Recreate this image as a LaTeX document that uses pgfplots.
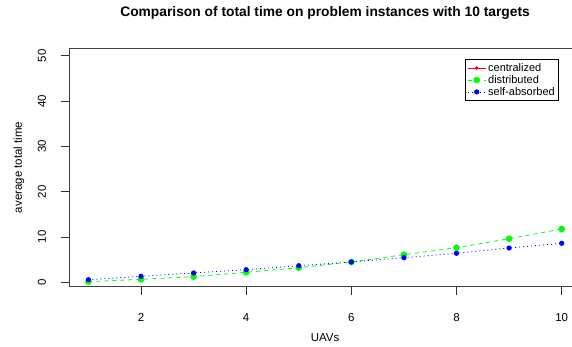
\documentclass[border=0pt]{standalone}
\usepackage{fontspec}
\setmainfont{Liberation Sans}
\usepackage{pgfplots}
\pgfplotsset{compat=1.18}
\newcommand\basefont{\fontsize{11.5bp}{13.8bp}\selectfont}
\begin{document}
\begin{tikzpicture}
\begin{axis}[
  at={(69.5bp,60.4bp)}, anchor=south west,
  scale only axis, width=511.1bp, height=238.6bp,
  xmin=0.64, xmax=10.36, ymin=-0.95, ymax=51.7,
  /pgf/number format/assume math mode=true,
  axis line style={black!75, line width=0.8bp},
  xtick={2,4,6,8,10}, ytick={0,10,20,30,40,50},
  xtick pos=bottom, ytick pos=left,
  tick align=outside, major tick length=8bp,
  tick style={black!80, line width=0.8bp},
  tick label style={font=\basefont, inner sep=0pt},
  xticklabel style={anchor=base, yshift=-26.5bp},
  yticklabel style={xshift=-15.5bp, rotate=90, anchor=base},
  title={Comparison of total time on problem instances with 10 targets},
  title style={font=\fontsize{13.8bp}{16bp}\selectfont\bfseries, at={(axis description cs:0.5,1.109)}, anchor=base, inner sep=0pt},
  xlabel={UAVs},
  xlabel style={font=\basefont, at={(axis description cs:0.5,-0.228)}, anchor=base, inner sep=0pt},
  ylabel={average total time},
  ylabel style={font=\basefont, at={(axis description cs:-0.093,0.5)}, anchor=base, inner sep=0pt},
  legend style={at={(axis description cs:0.958,0.954)}, anchor=north east,
    font=\fontsize{11bp}{12bp}\selectfont, draw=black, line width=0.7bp, fill=white,
    cells={anchor=west}, inner sep=2bp, row sep=-1.5bp},
  legend image code/.code={\draw[mark repeat=2,mark phase=2,#1] plot coordinates {(0bp,0bp) (9bp,0bp) (18bp,0bp)};},
]
\addlegendimage{red, solid, line width=0.8bp, mark=*, mark size=1.3bp}
\addlegendentry{centralized}
\addplot[color={rgb,255:red,0;green,255;blue,0}, dash pattern=on 4bp off 4bp, line width=0.8bp,
  mark=*, mark size=2.9bp, mark options={solid}] coordinates {
  (1,0.13) (2,0.66) (3,1.24) (4,2.21) (5,3.22) (6,4.48) (7,6.09) (8,7.63) (9,9.62) (10,11.76)};
\addlegendentry{distributed}
\addplot[color={rgb,255:red,0;green,0;blue,255}, dash pattern=on 1bp off 3bp, line width=0.8bp,
  mark=*, mark size=2.2bp, mark options={solid}] coordinates {
  (1,0.57) (2,1.32) (3,2.05) (4,2.78) (5,3.66) (6,4.48) (7,5.43) (8,6.40) (9,7.57) (10,8.61)};
\addlegendentry{self-absorbed}
\end{axis}
\pgfresetboundingbox
\useasboundingbox (0,0) rectangle (572bp,347bp);
\end{tikzpicture}
\end{document}
